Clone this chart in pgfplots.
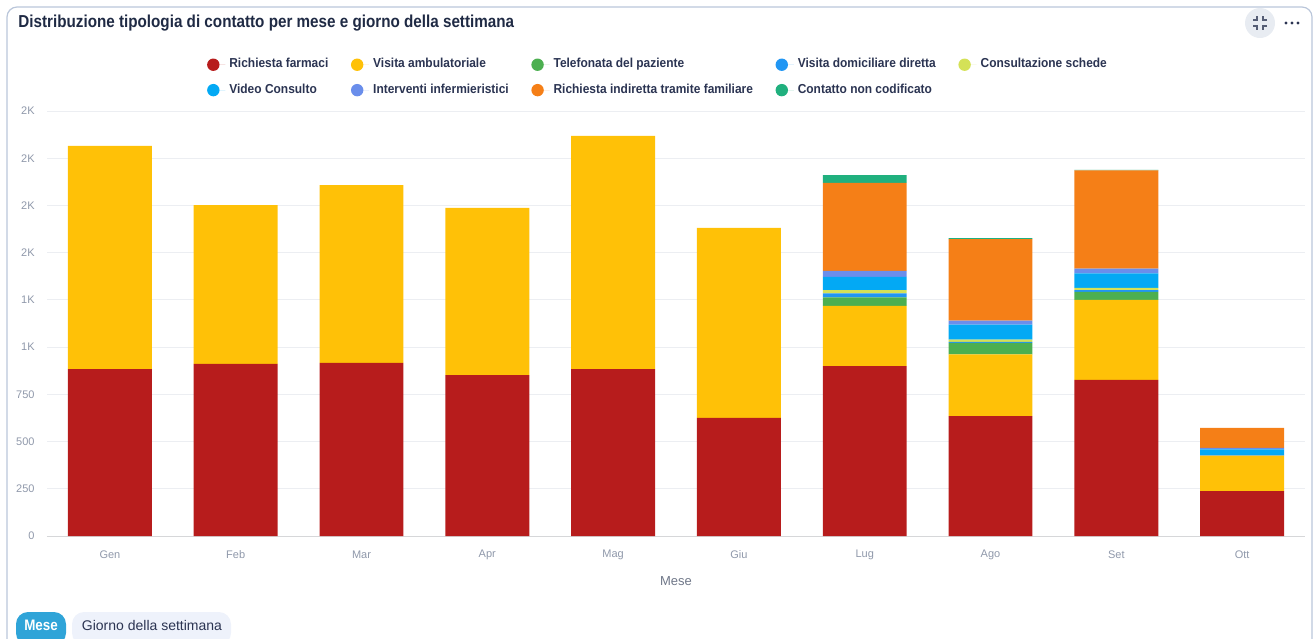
\documentclass[border=0pt]{standalone}
\usepackage{fontspec}
\setmainfont{Liberation Sans}
\newfontfamily\cond[FakeStretch=0.88]{Liberation Sans}
\newfontfamily\condl[FakeStretch=0.92]{Liberation Sans}
\usepackage{pgfplots}
\pgfplotsset{compat=1.18}
\definecolor{c1}{HTML}{B71C1C}
\definecolor{c2}{HTML}{FFC107}
\definecolor{c3}{HTML}{4CAF50}
\definecolor{c4}{HTML}{2196F3}
\definecolor{c5}{HTML}{D4E157}
\definecolor{c6}{HTML}{03A9F4}
\definecolor{c7}{HTML}{6A8EEB}
\definecolor{c8}{HTML}{F57F17}
\definecolor{c9}{HTML}{20B07E}
\definecolor{titlec}{HTML}{1F2A44}
\definecolor{legc}{HTML}{2B3452}
\definecolor{tickc}{HTML}{8F98AA}
\definecolor{labc}{HTML}{6F7788}
\definecolor{gridc}{HTML}{ECEEF2}
\definecolor{cardc}{HTML}{BAC6DA}
\definecolor{pillblue}{HTML}{2FA4D8}
\definecolor{pillgrey}{HTML}{EEF2FB}
\definecolor{iconbg}{HTML}{E8ECF2}
\begin{document}
\begin{tikzpicture}
\useasboundingbox (0,0) rectangle (657.5pt,-319pt);
\begin{scope}[x=0.5pt,y=-0.5pt]
  \draw[cardc, line width=0.6pt, rounded corners=5pt] (7,7) rectangle (1312,700);
  \node[anchor=west, inner sep=0, text=titlec, font=\fontsize{8.65}{9}\cond\bfseries] at (18,23) {Distribuzione tipologia di contatto per mese e giorno della settimana};
  \fill[iconbg] (1260,23) circle (15);
  \draw[legc!80, line width=0.6pt] (1253,20)--(1257,20)--(1257,16);
  \draw[legc!80, line width=0.6pt] (1267,20)--(1263,20)--(1263,16);
  \draw[legc!80, line width=0.6pt] (1253,26)--(1257,26)--(1257,30);
  \draw[legc!80, line width=0.6pt] (1267,26)--(1263,26)--(1263,30);
  \fill[legc] (1286,23) circle (1.7) (1292,23) circle (1.7) (1298,23) circle (1.7);
  \fill[pillblue, rounded corners=6pt] (16,612) rectangle (66,645);
  \node[text=white, font=\fontsize{7.6}{8}\cond\bfseries, inner sep=0] at (41,625.5) {Mese};
  \fill[pillgrey, rounded corners=6pt] (72,612) rectangle (231,645);
  \node[text=legc, font=\fontsize{7}{8}\selectfont, inner sep=0] at (152,625.5) {Giorno della settimana};
\end{scope}
\begin{axis}[
  at={(23.5pt,-268pt)}, anchor=south west,
  scale only axis, width=629pt, height=212.5pt,
  ybar stacked, bar width=0.667,
  xmin=-0.5, xmax=9.5, ymin=0, ymax=2250,
  xtick={0,...,9},
  xticklabels={Gen,Feb,Mar,Apr,Mag,Giu,Lug,Ago,Set,Ott},
  minor xtick={-0.5,0.5,...,9.5},
  major tick length=0pt, minor tick length=2.5pt,
  tick align=outside,
  xtick style={draw=none},
  minor tick style={draw=gridc!60!gray!70, line width=0.4pt},
  ytick={0,250,...,2250},
  yticklabels={0,250,500,750,1K,1K,2K,2K,2K,2K},
  ytick style={draw=none},
  ymajorgrids, grid style={gridc, line width=0.5pt},
  axis lines*=left,
  x axis line style={draw=gridc!70!gray!80, line width=0.5pt},
  y axis line style={draw=none},
  xticklabel style={anchor=center, inner sep=0, yshift=-9.5pt, text=tickc, font=\fontsize{5.5}{6}\selectfont},
  yticklabel style={anchor=east, inner sep=0, xshift=-6pt, text=tickc, font=\fontsize{5.5}{6}\selectfont},
  xlabel={Mese},
  xlabel style={at={(axis description cs:0.5,-0.106)}, anchor=center, inner sep=0, text=labc, font=\fontsize{6.5}{7}\selectfont},
  legend columns=5,
  legend style={at={(0.4865,1.079)}, anchor=center, draw=none, fill=none,
    text=legc, font=\fontsize{6.5}{7}\condl\bfseries,
    /tikz/every even column/.append style={column sep=9.3pt},
    row sep=2.5pt},
  legend cell align=left,
  legend image code/.code={\fill[#1] (0pt,0pt) circle (3.1pt); \path (-3pt,0pt) -- (6pt,0pt);},
  every axis plot/.append style={draw=none},
]
\addplot[fill=c1] coordinates {(0,884) (1,911) (2,916) (3,852) (4,884) (5,625) (6,900) (7,635) (8,826) (9,238)};
\addplot[fill=c2] coordinates {(0,1181) (1,841) (2,942) (3,885) (4,1234) (5,1006) (6,319) (7,327) (8,424) (9,187)};
\addplot[fill=c3] coordinates {(0,0) (1,0) (2,0) (3,0) (4,0) (5,0) (6,44) (7,60) (8,42) (9,0)};
\addplot[fill=c4] coordinates {(0,0) (1,0) (2,0) (3,0) (4,0) (5,0) (6,21) (7,6) (8,10) (9,4)};
\addplot[fill=c5] coordinates {(0,0) (1,0) (2,0) (3,0) (4,0) (5,0) (6,18) (7,12) (8,12) (9,0)};
\addplot[fill=c6] coordinates {(0,0) (1,0) (2,0) (3,0) (4,0) (5,0) (6,70) (7,79) (8,76) (9,30)};
\addplot[fill=c7] coordinates {(0,0) (1,0) (2,0) (3,0) (4,0) (5,0) (6,32) (7,21) (8,26) (9,8)};
\addplot[fill=c8] coordinates {(0,0) (1,0) (2,0) (3,0) (4,0) (5,0) (6,466) (7,432) (8,520) (9,106)};
\addplot[fill=c9] coordinates {(0,0) (1,0) (2,0) (3,0) (4,0) (5,0) (6,41) (7,5) (8,3) (9,0)};
\legend{Richiesta farmaci, Visita ambulatoriale, Telefonata del paziente, Visita domiciliare diretta, Consultazione schede, Video Consulto, Interventi infermieristici, Richiesta indiretta tramite familiare, Contatto non codificato}
\end{axis}
\end{tikzpicture}
\end{document}
